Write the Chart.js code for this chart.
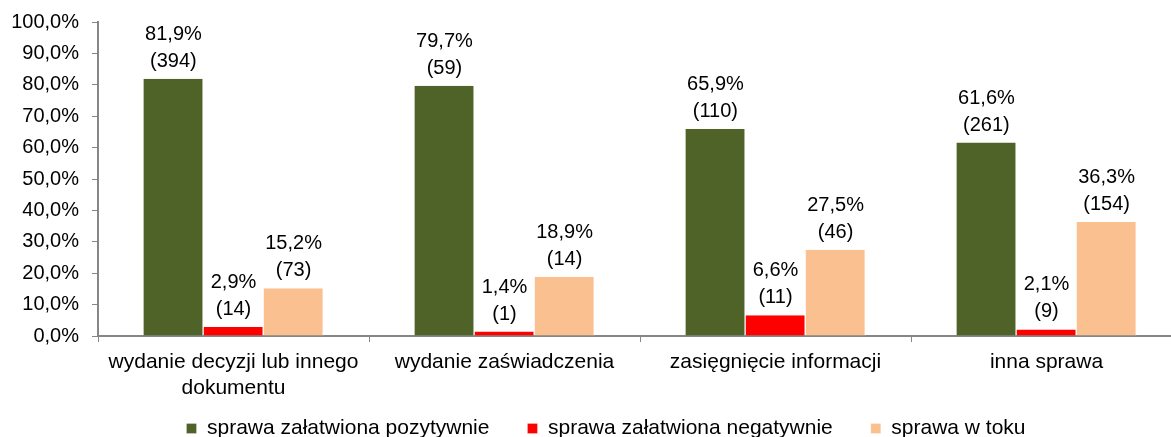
<!DOCTYPE html>
<html>
<head>
<meta charset="utf-8">
<script src="https://cdn.jsdelivr.net/npm/chart.js@4/dist/chart.umd.min.js"></script>
<style>
  html, body { margin: 0; padding: 0; background: #fff; overflow: hidden; }
  #wrap { width: 1186px; height: 437px; }
</style>
</head>
<body>
<div id="wrap"><canvas id="chart"></canvas></div>
<script>
// chart data
const categories = [
    ['wydanie decyzji lub innego', 'dokumentu'],
    'wydanie zaświadczenia',
    'zasięgnięcie informacji',
    'inna sprawa'
];
const seriesNames = ['sprawa załatwiona pozytywnie', 'sprawa załatwiona negatywnie', 'sprawa w toku'];
const positivePct = [81.9, 79.7, 65.9, 61.6];
const negativePct = [2.9, 1.4, 6.6, 2.1];
const pendingPct = [15.2, 18.9, 27.5, 36.3];
const positiveCount = [394, 59, 110, 261];
const negativeCount = [14, 1, 11, 9];
const pendingCount = [73, 14, 46, 154];
const yTicks = [0, 10, 20, 30, 40, 50, 60, 70, 80, 90, 100];

const counts = [positiveCount, negativeCount, pendingCount];
const FONT = '"Liberation Sans", Arial, sans-serif';

function fmtPct(v) {
    return v.toFixed(1).replace('.', ',') + '%';
}

// draws "xx,x%" and "(n)" above every bar
const valueLabels = {
    id: 'valueLabels',
    afterDatasetsDraw(chart) {
        const ctx = chart.ctx;
        ctx.save();
        ctx.font = '20px ' + FONT;
        ctx.fillStyle = '#000';
        ctx.textAlign = 'center';
        ctx.textBaseline = 'alphabetic';
        chart.data.datasets.forEach((ds, i) => {
            const meta = chart.getDatasetMeta(i);
            meta.data.forEach((bar, j) => {
                const y = bar.y - 12;
                ctx.fillText('(' + counts[i][j] + ')', bar.x, y);
                ctx.fillText(fmtPct(ds.data[j]), bar.x, y - 27);
            });
        });
        ctx.restore();
    }
};

// legend box is made shorter so the axis labels can sit close to it
const legendHeight = {
    id: 'legendHeight',
    beforeLayout(chart) {
        const legend = chart.legend;
        if (legend && !legend._patched) {
            const fit = legend.fit;
            legend.fit = function() {
                fit.call(this);
                this.height = 57;
            };
            legend._patched = true;
        }
    },
    afterLayout(chart) {
        // let the two-line category label run past the shortened axis box
        chart.scales.x.bottom = chart.height;
        chart.legend.left += 10;
        chart.legend.right += 10;
    }
};

document.addEventListener('DOMContentLoaded', function() {
    initializeChart();
});

function initializeChart() {
    const el = document.getElementById('chart');
    new Chart(el, {
        type: 'bar',
        data: {
            labels: categories,
            datasets: [
                { label: seriesNames[0], data: positivePct, backgroundColor: '#4F6228' },
                { label: seriesNames[1], data: negativePct, backgroundColor: '#FF0000' },
                { label: seriesNames[2], data: pendingPct, backgroundColor: '#FAC090' }
            ]
        },
        options: {
            responsive: true,
            maintainAspectRatio: false,
            animation: false,
            layout: { padding: { top: 22, right: 4, left: 10, bottom: 0 } },
            datasets: {
                bar: {
                    categoryPercentage: 0.665,
                    barPercentage: 1,
                    borderColor: '#ffffff',
                    borderWidth: { right: 1 }
                }
            },
            plugins: {
                legend: {
                    position: 'bottom',
                    labels: {
                        font: { family: FONT, size: 21 },
                        color: '#000',
                        boxWidth: 10,
                        boxHeight: 10,
                        padding: 38
                    }
                },
                tooltip: { enabled: false }
            },
            scales: {
                y: {
                    min: 0,
                    max: 100,
                    afterBuildTicks: axis => { axis.ticks = yTicks.map(v => ({ value: v })); },
                    afterFit: axis => {
                        axis.width = 88;
                        axis.paddingTop = 0;
                        axis.paddingBottom = 0;
                    },
                    ticks: {
                        font: { family: FONT, size: 20 },
                        color: '#000',
                        padding: 13,
                        callback: v => fmtPct(v)
                    },
                    grid: { drawOnChartArea: false, tickLength: 6, color: '#868686' },
                    border: { color: '#868686', width: 2 }
                },
                x: {
                    afterFit: axis => {
                        axis.height = 44;
                        axis.paddingLeft = 0;
                        axis.paddingRight = 0;
                    },
                    ticks: {
                        font: { family: FONT, size: 21, lineHeight: 1.25 },
                        color: '#000',
                        padding: 7,
                        maxRotation: 0
                    },
                    grid: { drawOnChartArea: false, tickLength: 6, color: '#868686', offset: true },
                    border: { color: '#868686', width: 2 }
                }
            }
        },
        plugins: [valueLabels, legendHeight]
    });
}
</script>
</body>
</html>
